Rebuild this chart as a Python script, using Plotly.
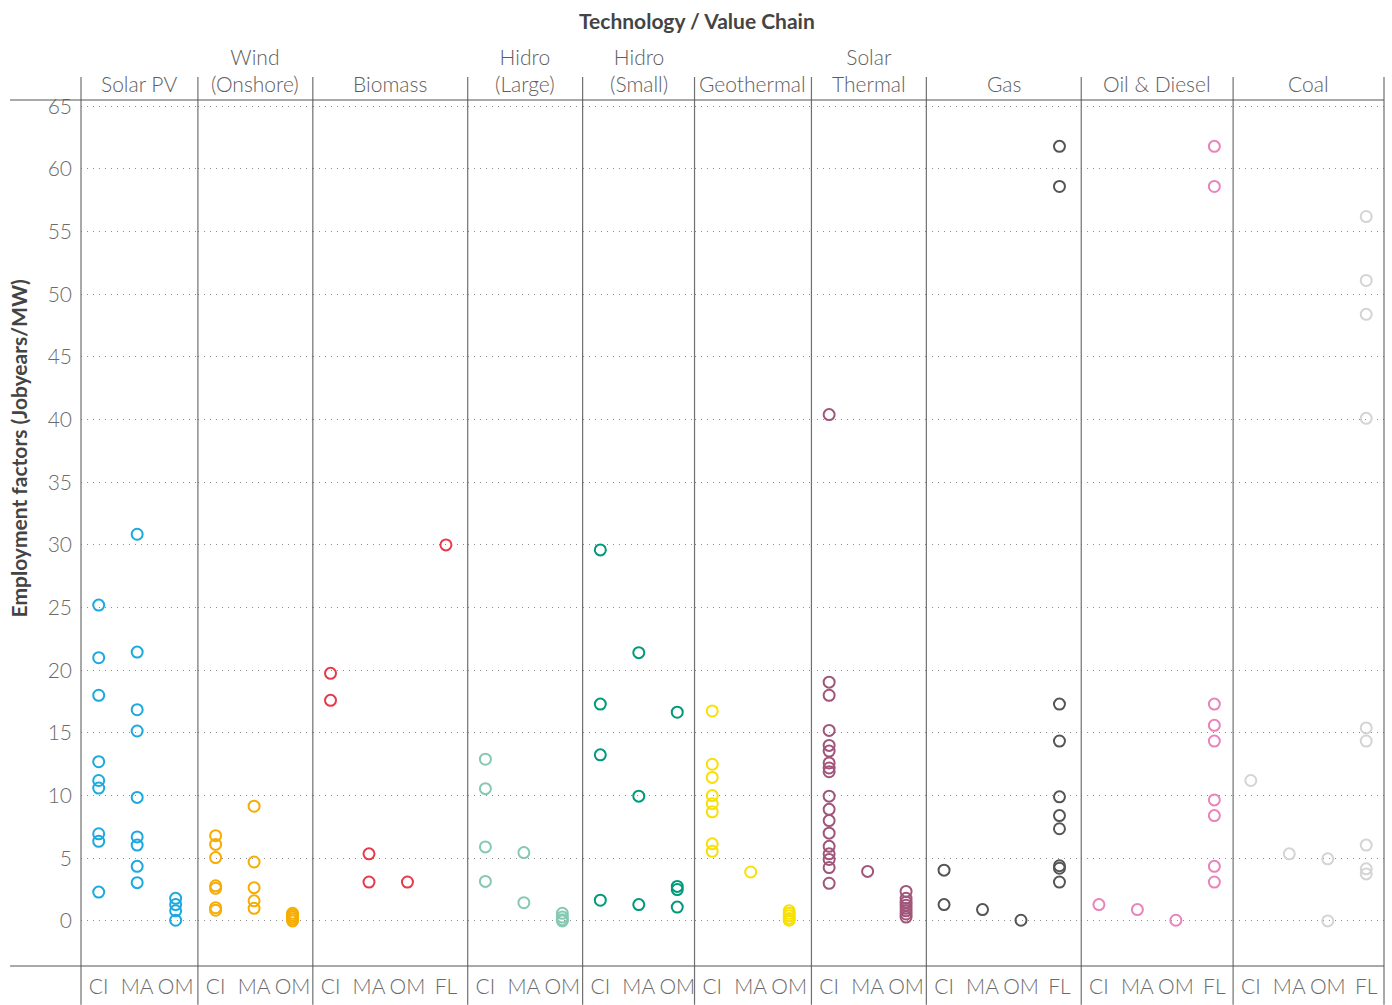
import plotly.graph_objects as go

# Technologies (columns) and the value-chain stages inside each column
technologies = ["Solar PV", "Wind (Onshore)", "Biomass", "Hidro (Large)", "Hidro (Small)",
                "Geothermal", "Solar Thermal", "Gas", "Oil & Diesel", "Coal"]
header_labels = ["Solar PV", "Wind<br>(Onshore)", "Biomass", "Hidro<br>(Large)", "Hidro<br>(Small)",
                 "Geothermal", "Solar<br>Thermal", "Gas", "Oil & Diesel", "Coal"]
stages_3 = ["CI", "MA", "OM"]
stages_4 = ["CI", "MA", "OM", "FL"]

# Employment factors (job-years per MW) by stage
solar_pv = {"CI": [25.2, 21.0, 18.0, 12.7, 11.2, 10.6, 6.95, 6.35, 2.3],
            "MA": [30.85, 21.45, 16.85, 15.15, 9.85, 6.7, 6.05, 4.35, 3.05],
            "OM": [1.8, 1.3, 0.8, 0.05]}
wind_onshore = {"CI": [6.8, 6.1, 5.05, 2.8, 2.6, 1.05, 0.85],
                "MA": [9.15, 4.7, 2.65, 1.6, 1.0],
                "OM": [0.6, 0.45, 0.3, 0.15, 0.0]}
biomass = {"CI": [19.75, 17.6],
           "MA": [5.35, 3.1],
           "OM": [3.1],
           "FL": [30.0]}
hidro_large = {"CI": [12.9, 10.55, 5.9, 3.15],
               "MA": [5.45, 1.45],
               "OM": [0.6, 0.3, 0.1, 0.0]}
hidro_small = {"CI": [29.6, 17.3, 13.25, 1.65],
               "MA": [21.4, 9.95, 1.3],
               "OM": [16.65, 2.75, 2.5, 1.1]}
geothermal = {"CI": [16.75, 12.5, 11.45, 10.0, 9.35, 8.7, 6.15, 5.55],
              "MA": [3.9],
              "OM": [0.8, 0.6, 0.4, 0.2, 0.05]}
solar_thermal = {"CI": [40.4, 19.05, 18.0, 15.2, 14.0, 13.55, 12.6, 12.2, 11.9, 9.95,
                        8.9, 8.0, 7.0, 5.95, 5.35, 4.9, 4.25, 3.0],
                 "MA": [3.95],
                 "OM": [2.35, 1.8, 1.5, 1.25, 1.0, 0.8, 0.55, 0.3]}
gas = {"CI": [4.05, 1.3],
       "MA": [0.9],
       "OM": [0.05],
       "FL": [61.8, 58.6, 17.3, 14.35, 9.9, 8.4, 7.35, 4.4, 4.2, 3.1]}
oil_diesel = {"CI": [1.3],
              "MA": [0.9],
              "OM": [0.05],
              "FL": [61.8, 58.6, 17.3, 15.6, 14.35, 9.65, 8.4, 4.35, 3.1]}
coal = {"CI": [11.2],
        "MA": [5.35],
        "OM": [4.95, 0.0],
        "FL": [56.2, 51.1, 48.4, 40.1, 15.4, 14.35, 6.05, 4.15, 3.75]}

tech_data = [solar_pv, wind_onshore, biomass, hidro_large, hidro_small,
             geothermal, solar_thermal, gas, oil_diesel, coal]
tech_colors = ["#1BA9E0", "#F6AC00", "#E8394A", "#86C9B2", "#00997A",
               "#F8E000", "#A2557A", "#555555", "#E884BC", "#D4D4D4"]
y_ticks = list(range(0, 70, 5))

# Pixel geometry of the facet grid
W, H = 1392, 1005
ML, MR, MT, MB = 81, 7, 100, 35
PW, PH = W - ML - MR, H - MT - MB
panel_px = [117, 115, 155, 115, 112, 117, 115, 155, 152, 151]
step_px = 38.5  # spacing between stage columns

FONT = "Lato"
FS = 21

fig = go.Figure()
layout = dict(
    width=W, height=H,
    margin=dict(l=ML, r=MR, t=MT, b=MB),
    paper_bgcolor="white", plot_bgcolor="white",
    showlegend=False,
    font=dict(family=FONT, color="#5a5a5a"),
)

edges = [0]
for w in panel_px:
    edges.append(edges[-1] + w)

annotations = []
shapes = []
for i, (tech, data, color) in enumerate(zip(technologies, tech_data, tech_colors)):
    stages = stages_4 if "FL" in data else stages_3
    xname = "x" if i == 0 else f"x{i + 1}"
    axkey = "xaxis" if i == 0 else f"xaxis{i + 1}"
    lo = -0.46
    hi = lo + panel_px[i] / step_px
    layout[axkey] = dict(
        domain=[edges[i] / PW, edges[i + 1] / PW],
        type="category", categoryorder="array", categoryarray=stages,
        range=[lo, hi], anchor="y",
        showgrid=False, zeroline=False, showline=False, ticks="",
        tickfont=dict(family=FONT, size=FS, color="#6a6a6a", weight=300),
        ticklabelstandoff=6, fixedrange=True,
    )
    xs, ys = [], []
    for s in stages:
        vals = data.get(s, [])
        xs += [s] * len(vals)
        ys += vals
    fig.add_trace(go.Scatter(
        x=xs, y=ys, xaxis=xname, yaxis="y", mode="markers", name=tech,
        marker=dict(symbol="circle-open", size=11, color=color, line=dict(width=2, color=color)),
        hovertemplate=tech + " %{x}: %{y}<extra></extra>",
    ))
    annotations.append(dict(
        text=header_labels[i], xref="paper", yref="paper",
        x=(edges[i] + edges[i + 1]) / 2 / PW, y=(PH + 2) / PH,
        xanchor="center", yanchor="bottom", showarrow=False,
        font=dict(family=FONT, size=FS, color="#5e5e5e", weight=300),
    ))

layout["yaxis"] = dict(
    domain=[0, 1], range=[-3.6, 65.5], anchor="x",
    tickvals=y_ticks, ticks="", showline=False, zeroline=False,
    showgrid=True, gridcolor="#8c8c8c", gridwidth=1, griddash="1px,5px",
    tickfont=dict(family=FONT, size=FS, color="#6a6a6a", weight=300),
    ticklabelstandoff=8, fixedrange=True,
)

# Panel separators running through the header and footer bands
for e in edges:
    shapes.append(dict(type="line", xref="paper", yref="paper",
                       x0=e / PW, x1=e / PW, y0=-(MB + 4) / PH, y1=(PH + 23) / PH,
                       line=dict(color="#707070", width=1.2)))
for yv in (0, 1):
    shapes.append(dict(type="line", xref="paper", yref="paper",
                       x0=(10 - ML) / PW, x1=1, y0=yv, y1=yv,
                       line=dict(color="#555555", width=1.2)))

annotations.append(dict(
    text="Technology / Value Chain", xref="paper", yref="paper",
    x=(697 - ML) / PW, y=(PH + MT - 20) / PH, xanchor="center", yanchor="middle",
    showarrow=False, font=dict(family=FONT, size=FS, color="#444444", weight=700),
))
annotations.append(dict(
    text="Employment factors (Jobyears/MW)", xref="paper", yref="paper",
    x=(18 - ML) / PW, y=(PH + MT - 450) / PH, xanchor="center", yanchor="middle",
    textangle=-90, showarrow=False,
    font=dict(family=FONT, size=FS, color="#444444", weight=700),
))

layout["annotations"] = annotations
layout["shapes"] = shapes
fig.update_layout(**layout)
fig.write_html("out.html")
